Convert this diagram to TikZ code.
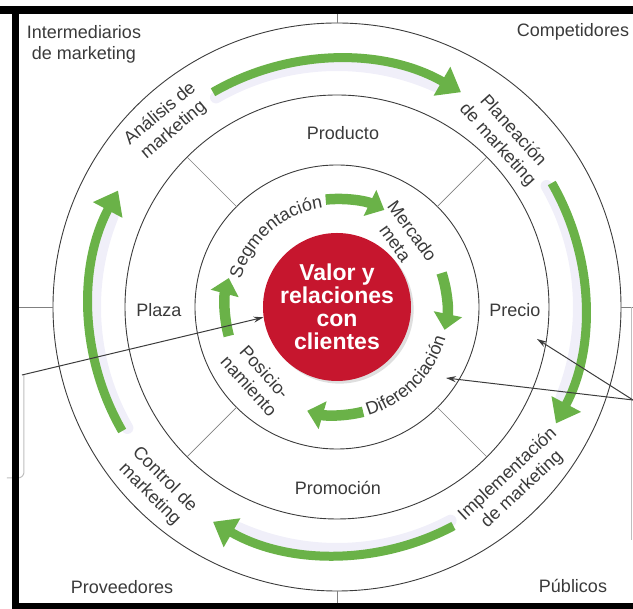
\documentclass[tikz,border=0pt]{standalone}
\usepackage{fontspec}
\setmainfont{Liberation Sans}
\usepackage{xcolor}
\usetikzlibrary{positioning, arrows.meta, decorations.text, shadows}

\definecolor{flowgreen}{RGB}{106,178,72}
\definecolor{flowhaze}{RGB}{240,239,249}
\definecolor{corered}{RGB}{198,22,46}
\definecolor{labelgray}{RGB}{58,58,58}
\definecolor{linegray}{RGB}{60,60,60}
\newcommand{\curvefont}{\color{labelgray}\fontsize{18}{20}\selectfont}

\begin{document}
\begin{tikzpicture}[
        x=1pt, y=1pt,
        % Define styles for the rings, texts and arrows
        ring/.style={draw=linegray, line width=0.9pt, circle, inner sep=0pt, outer sep=0pt},
        spoke/.style={draw=gray, line width=0.7pt},
        boxline/.style={draw=gray!50, line width=1pt},
        ringtext/.style={text=labelgray, font=\fontsize{18}{21}\selectfont, align=center, inner sep=1pt},
        flowhalo/.style={draw=flowhaze, line width=12pt, line cap=round},
        outerflow/.style={draw=flowgreen, line width=9pt, -{Triangle[length=22pt, width=32pt]}},
        innerflow/.style={draw=flowgreen, line width=10.5pt, -{Triangle[length=16pt, width=28pt]}},
        pointer/.style={draw=linegray, line width=1pt, -{Stealth[length=10pt, width=6pt]}}
    ]
    \useasboundingbox (-337,-302) rectangle (296,307);

    % Draw the three rings
    \node[ring, minimum size=568pt] (outer) at (0,0) {};
    \node[ring, minimum size=424pt] (middle) at (0,0) {};
    \node[ring, minimum size=284pt] (inner) at (0,0) {};

    % Spokes between the inner and the middle ring
    \foreach \a in {45,135,225,315}
        \draw[spoke] (inner.\a) -- (middle.\a);

    % Ticks from the outer ring to the frame
    \coordinate (topedge) at (0,293);
    \coordinate (bottomedge) at (0,-296);
    \coordinate (leftedge) at (-318,0);
    \coordinate (rightedge) at (296,0);
    \draw[spoke] (outer.north) -- (topedge);
    \draw[spoke] (outer.south) -- (bottomedge);
    \draw[spoke] (outer.west) -- (leftedge);
    \draw[spoke] (outer.east) -- (rightedge);

    % Green process arrows on the outer band
    \foreach \s/\e in {120/60, 30/-28, -62/-120, -150/-208} {
        \draw[flowhalo] (\s:242) arc[start angle=\s, end angle=\e+6, radius=242];
        \draw[outerflow] (\s:248) arc[start angle=\s, end angle=\e, radius=248];
    }

    % Green arrows round the core
    \draw[innerflow] (96:108) arc[start angle=96, end angle=64, radius=108];
    \draw[innerflow] (18:110) arc[start angle=18, end angle=-12, radius=110];
    \draw[innerflow] (-76:108) arc[start angle=-76, end angle=-106, radius=108];
    \draw[innerflow] (195:112) arc[start angle=195, end angle=165, radius=112];

    % The core
    \node[circle, fill=corered, minimum size=148pt, inner sep=0pt, drop shadow={opacity=0.25},
          text=white, font=\bfseries\fontsize{23}{23}\selectfont, align=center] (core) at (0,0)
          {Valor y\\relaciones\\con\\clientes};

    % Marketing mix on the middle band
    \node[ringtext] (product) at (6,174) {Producto};
    \node[ringtext] (place) at (-178,-3) {Plaza};
    \node[ringtext] (price) at (178,-3) {Precio};
    \node[ringtext] (promotion) at (1,-181) {Promoción};

    % Process steps on the outer band
    \node[ringtext, rotate=40] (analysis) at (-170,185) {Análisis de\\marketing};
    \node[ringtext, rotate=-48] (planning) at (168,169) {Planeación\\de marketing};
    \node[ringtext, rotate=43] (implementation) at (178,-175) {Implementación\\de marketing};
    \node[ringtext, rotate=-45] (control) at (-180,-180) {Control de\\marketing};

    % Strategy steps on the inner band
    \path[decorate, decoration={text along path, text align=center, text={|\curvefont|Segmentación}}]
        (170:100) arc[start angle=170, end angle=92, radius=100];
    \path[decorate, decoration={text along path, text align=center, text={|\curvefont|Diferenciación}}]
        (-82:113) arc[start angle=-82, end angle=-8, radius=113];
    \node[ringtext, rotate=-54] (target) at (67,70) {Mercado\\meta};
    \node[ringtext, rotate=-48] (positioning) at (-80,-72) {Posicio-\\namiento};

    % Actors in the corners
    \node[ringtext] (intermediaries) at (-253,263) {Intermediarios\\de marketing};
    \node[ringtext] (competitors) at (236,275) {Competidores};
    \node[ringtext] (suppliers) at (-215,-280) {Proveedores};
    \node[ringtext] (publics) at (236,-279) {Públicos};

    % Callout edges and their pointers
    \draw[boxline, rounded corners=6pt] (-313,-68) -- (-313,-171) -- (-330,-171);
    \draw[boxline] (295,0) -- (295,-233);
    \coordinate (leftcallout) at (-315,-68);
    \coordinate (rightcallout) at (296,-93);
    \coordinate (pricemark) at (200,-32);
    \coordinate (diffmark) at (109,-71);
    \draw[pointer] (leftcallout) -- (core.188);
    \draw[pointer] (rightcallout) -- (pricemark);
    \draw[pointer] (rightcallout) -- (diffmark);

    % Frame
    \fill (-337,293) rectangle (296,301);
    \fill (-325,-302) rectangle (-318,301);
    \fill (-325,-302) rectangle (296,-296);

\end{tikzpicture}
\end{document}
